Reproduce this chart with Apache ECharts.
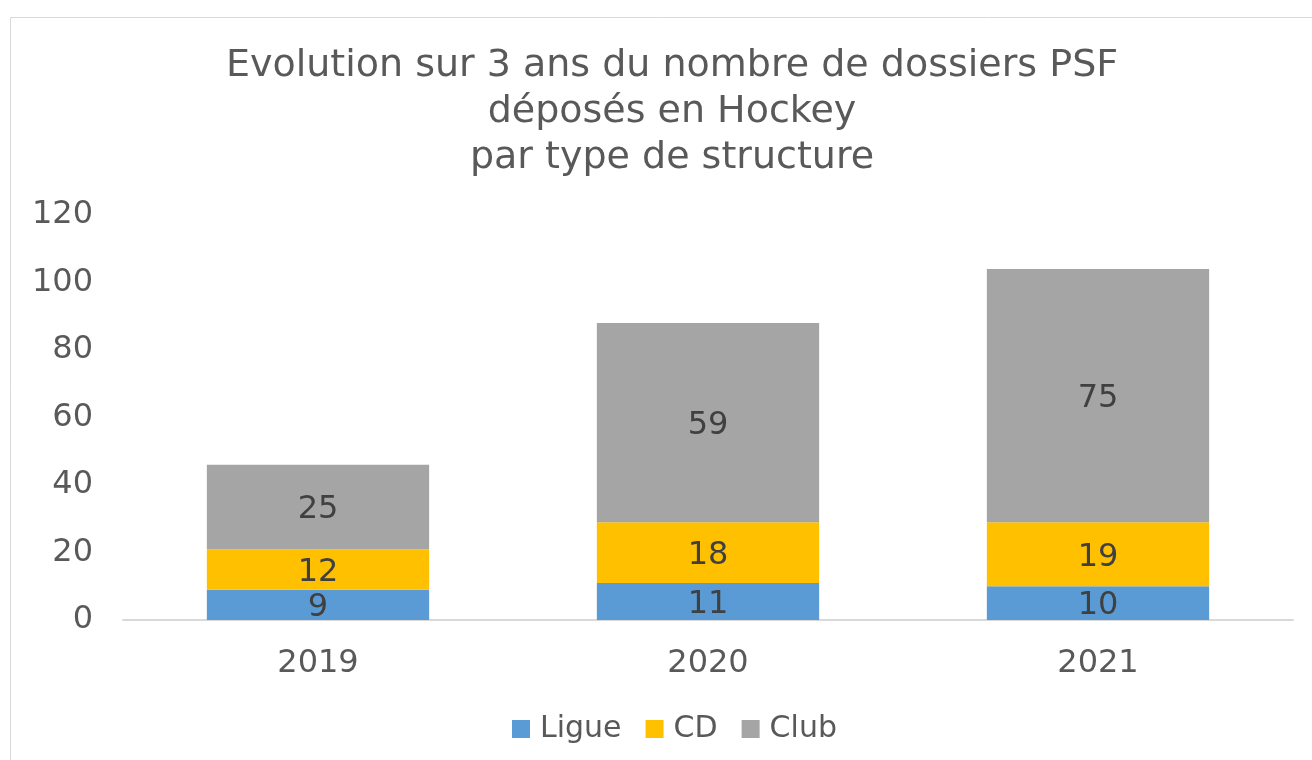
<!DOCTYPE html>
<html>
<head>
<meta charset="utf-8">
<script src="https://cdn.jsdelivr.net/npm/echarts@6/dist/echarts.min.js"></script>
<style>
html,body{margin:0;padding:0;background:#fff;}
#chart{width:1312px;height:760px;}
</style>
</head>
<body>
<div id="chart"></div>
<script>
const categories = ['2019', '2020', '2021'];
const ligue = [9, 11, 10];
const cd = [12, 18, 19];
const club = [25, 59, 75];
const seriesNames = ['Ligue', 'CD', 'Club'];
const colors = ['#5b9bd5', '#ffc000', '#a5a5a5'];
const yTicks = {min: 0, max: 120, interval: 20};

const FONT = '"DejaVu Sans"';
const chart = echarts.init(document.getElementById('chart'), null, {renderer: 'canvas'});

function mk(name, data, color) {
  return {
    name: name,
    type: 'bar',
    stack: 'total',
    data: data,
    barWidth: '57%',
    itemStyle: {color: color},
    label: {
      show: true,
      position: 'inside',
      offset: [0, 3],
      color: '#404040',
      fontFamily: FONT,
      fontSize: 32
    },
    emphasis: {disabled: true}
  };
}

chart.setOption({
  animation: false,
  backgroundColor: '#ffffff',
  graphic: [{
    type: 'rect',
    shape: {x: 10.5, y: 17.5, width: 1400, height: 900},
    style: {fill: 'none', stroke: '#d9d9d9', lineWidth: 1},
    silent: true
  }],
  title: {
    text: 'Evolution sur 3 ans du nombre de dossiers PSF\ndéposés en Hockey\npar type de structure',
    left: 667,
    top: 38,
    textAlign: 'center',
    textStyle: {
      color: '#595959',
      fontFamily: FONT,
      fontSize: 38,
      fontWeight: 'normal',
      lineHeight: 46
    }
  },
  legend: {
    data: seriesNames,
    bottom: 11,
    left: 507,
    itemWidth: 18,
    itemHeight: 18,
    itemGap: 24,
    icon: 'rect',
    textStyle: {color: '#595959', fontFamily: FONT, fontSize: 30, padding: [0, 0, 0, 5]}
  },
  grid: {left: 123, right: 19, top: 215, bottom: 140, containLabel: false},
  xAxis: {
    type: 'category',
    data: categories,
    axisLine: {lineStyle: {color: '#d9d9d9', width: 2}},
    axisTick: {show: false},
    axisLabel: {color: '#595959', fontFamily: FONT, fontSize: 32, margin: 28}
  },
  yAxis: {
    type: 'value',
    min: yTicks.min,
    max: yTicks.max,
    interval: yTicks.interval,
    axisLine: {show: false},
    axisTick: {show: false},
    splitLine: {show: false},
    axisLabel: {color: '#595959', fontFamily: FONT, fontSize: 32, margin: 30}
  },
  series: [
    mk(seriesNames[0], ligue, colors[0]),
    mk(seriesNames[1], cd, colors[1]),
    mk(seriesNames[2], club, colors[2])
  ]
});
</script>
</body>
</html>
